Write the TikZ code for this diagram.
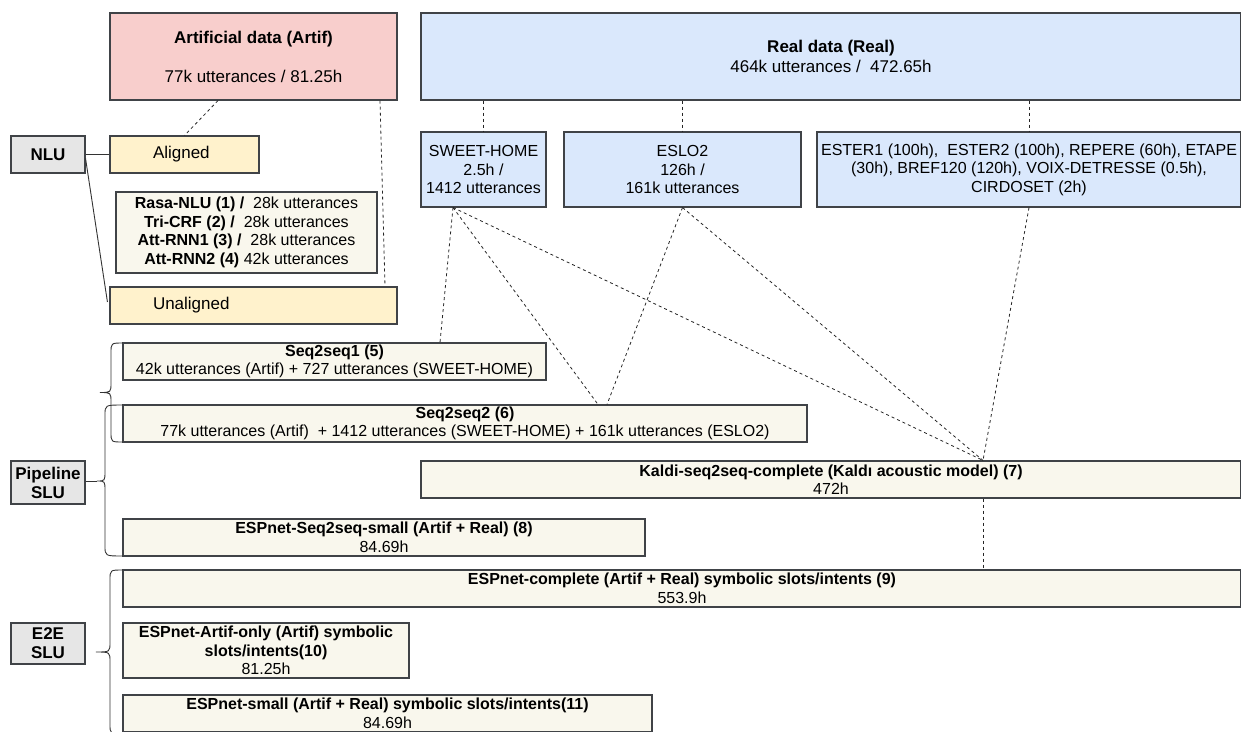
\documentclass[tikz,border=0pt]{standalone}
\usepackage{fontspec}
\setmainfont{Liberation Sans}
\usetikzlibrary{calc}
\definecolor{artifc}{HTML}{F8CECC}
\definecolor{realc}{HTML}{DAE8FC}
\definecolor{yelc}{HTML}{FFF2CC}
\definecolor{beigec}{HTML}{F9F7ED}
\definecolor{grayc}{HTML}{E6E6E6}
\definecolor{linec}{HTML}{404347}
\newcommand\mybrace[6]{%
  \draw[bracestyle] (#1,#4) .. controls (#2,#4) .. (#2,#4+10) -- (#2,#5-10)
    .. controls (#2,#5) .. (#3,#5) .. controls (#2,#5) .. (#2,#5+10)
    -- (#2,#6-10) .. controls (#2,#6) .. (#1,#6);}
\begin{document}
\begin{tikzpicture}[x=1pt,y=-1pt,
  box/.style={draw=linec, line width=1.1pt, rectangle, inner sep=0pt, align=center,
    font=\fontsize{16}{18.5}\selectfont},
  bigtext/.style={font=\fontsize{17}{19.5}\selectfont},
  artifbox/.style={box, bigtext, fill=artifc},
  realbox/.style={box, fill=realc},
  yelbox/.style={box, bigtext, fill=yelc},
  modelbox/.style={box, fill=beigec},
  catbox/.style={box, fill=grayc, font=\fontsize{17}{19}\selectfont\bfseries},
  conn/.style={draw=black!85, line width=0.8pt, dash pattern=on 3pt off 3pt},
  solidconn/.style={draw=black!80, line width=0.9pt},
  bracestyle/.style={draw=black!80, line width=0.9pt}]
\useasboundingbox (0,0) rectangle (1241,731);
\clip (0,0) rectangle (1241,731);

% data boxes
\node[artifbox, minimum width=287pt, minimum height=87pt] (artif) at (253.5,56.5)
  {\textbf{Artificial data (Artif)}\\[19.5pt]77k utterances / 81.25h};
\node[realbox, bigtext, minimum width=820pt, minimum height=87pt] (real) at (831,56.5)
  {\textbf{Real data (Real)}\\464k utterances /\ \ 472.65h};
\node[realbox, minimum width=125pt, minimum height=75pt] (sweet) at (483.5,169.5)
  {SWEET-HOME\\2.5h /\\1412 utterances};
\node[realbox, minimum width=237pt, minimum height=75pt] (eslo) at (682.5,169.5)
  {ESLO2\\126h /\\161k utterances};
\node[realbox, minimum width=424pt, minimum height=75pt] (ester) at (1029,169.5)
  {ESTER1 (100h),\ \ ESTER2 (100h), REPERE (60h), ETAPE\\(30h), BREF120 (120h), VOIX-DETRESSE (0.5h),\\CIRDOSET (2h)};

% NLU
\node[catbox, minimum width=74pt, minimum height=37pt] (nlu) at (48,154.5) {NLU};
\node[yelbox, minimum width=149pt, minimum height=37pt, text width=63pt, align=left] (aligned) at (184.5,154.5) {Aligned};
\node[modelbox, minimum width=261pt, minimum height=81pt] (nlumodels) at (246.5,232.5)
  {\textbf{Rasa-NLU (1) /}\ \ 28k utterances\\
   \textbf{Tri-CRF (2) /}\ \ 28k utterances\\
   \textbf{Att-RNN1 (3) /}\ \ 28k utterances\\
   \textbf{Att-RNN2 (4)} 42k utterances};
\node[yelbox, minimum width=287pt, minimum height=37pt, text width=201pt, align=left] (unaligned) at (253.5,305.5) {Unaligned};

% Pipeline SLU
\node[catbox, minimum width=74pt, minimum height=43pt, align=center] (pipeline) at (48,482.5) {Pipeline\\SLU};
\node[modelbox, minimum width=423pt, minimum height=37pt] (s2s1) at (334.5,361.5)
  {\textbf{Seq2seq1 (5)}\\42k utterances (Artif) + 727 utterances (SWEET-HOME)};
\node[modelbox, minimum width=684pt, minimum height=37pt] (s2s2) at (465,423.5)
  {\textbf{Seq2seq2 (6)}\\77k utterances (Artif)\ \ + 1412 utterances (SWEET-HOME) + 161k utterances (ESLO2)};
\node[modelbox, minimum width=820pt, minimum height=37pt] (kaldi) at (831,479.5)
  {\textbf{Kaldi-seq2seq-complete (Kaldı acoustic model) (7)}\\472h};
\node[modelbox, minimum width=522pt, minimum height=37pt] (espseq) at (384,537.5)
  {\textbf{ESPnet-Seq2seq-small (Artif + Real) (8)}\\84.69h};

% E2E SLU
\node[catbox, minimum width=74pt, minimum height=41pt, align=center] (e2e) at (48,643.5) {E2E\\SLU};
\node[modelbox, minimum width=1118pt, minimum height=37pt] (espcomplete) at (682,588.5)
  {\textbf{ESPnet-complete (Artif + Real) symbolic slots/intents (9)}\\553.9h};
\node[modelbox, minimum width=286pt, minimum height=55pt] (espartif) at (266,650.5)
  {\textbf{ESPnet-Artif-only (Artif) symbolic}\\\textbf{slots/intents(10)}\\81.25h};
\node[modelbox, minimum width=529pt, minimum height=37pt] (espsmall) at (387.5,713.5)
  {\textbf{ESPnet-small (Artif + Real) symbolic slots/intents(11)}\\84.69h};

% braces
\mybrace{123}{111}{100}{343}{392.5}{442}
\mybrace{123}{105}{97}{405}{481}{556}
\mybrace{123}{110}{96}{570}{652}{734}
\coordinate (ptip) at (97,481);
\draw[solidconn] (pipeline.east |- ptip) -- (ptip);

% NLU connectors
\draw[solidconn] (nlu.east) -- (aligned.west);
\draw[solidconn] ([yshift=-4pt]nlu.east) -- ([yshift=3.5pt,xshift=-2pt]unaligned.west);
\draw[conn] ([xshift=-35.5pt]artif.south) -- (aligned.north);
\draw[conn] ([xshift=126.5pt]artif.south) -- ([xshift=131.5pt]unaligned.north);

% real data connectors
\draw[conn] (real.south -| sweet.north) -- (sweet.north);
\draw[conn] (real.south -| eslo.north) -- (eslo.north);
\draw[conn] (real.south -| ester.north) -- (ester.north);

\draw[conn] ([xshift=-30.5pt]sweet.south) -- ([xshift=105.5pt]s2s1.north);
\draw[conn] ([xshift=-30.5pt]sweet.south) -- ([xshift=133pt]s2s2.north);
\draw[conn] (eslo.south) -- ([xshift=142pt]s2s2.north);
\draw[conn] ([xshift=-30.5pt]sweet.south) -- ([xshift=152pt]kaldi.north);
\draw[conn] (eslo.south) -- ([xshift=152pt]kaldi.north);
\draw[conn] (ester.south) -- ([xshift=152pt]kaldi.north);
\draw[conn] ([xshift=152pt]kaldi.south) -- ([xshift=301pt]espcomplete.north);
\end{tikzpicture}
\end{document}
